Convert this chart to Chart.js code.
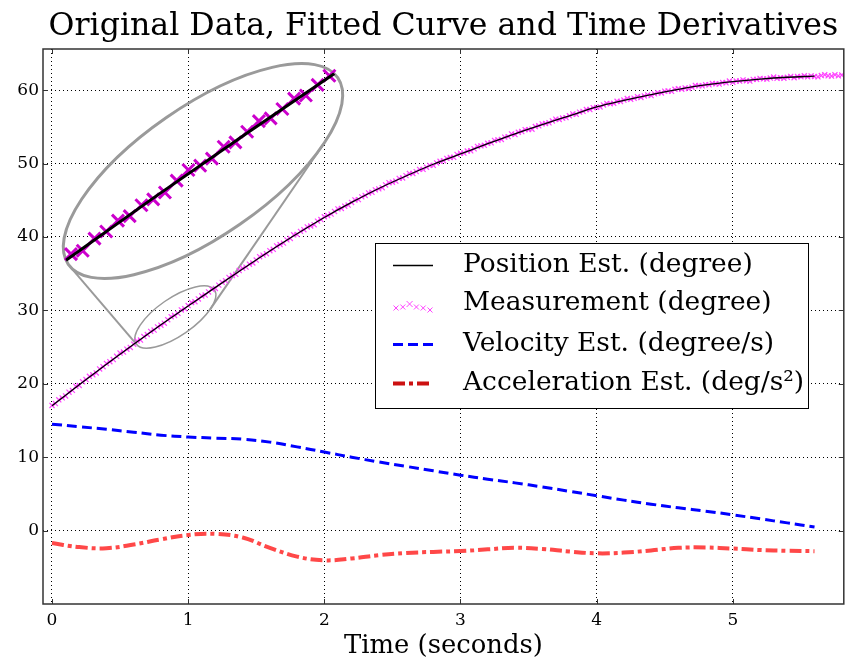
<!DOCTYPE html>
<html>
<head>
<meta charset="utf-8">
<title>Original Data, Fitted Curve and Time Derivatives</title>
<script src="https://cdn.jsdelivr.net/npm/chart.js@4.4.1/dist/chart.umd.min.js"></script>
<style>
  html, body { margin: 0; padding: 0; background: #fff; overflow: hidden; }
  /* the axes run a few px past the right edge of the window, like the original figure */
  #wrap { width: 849px; height: 659px; }
</style>
</head>
<body>
<div id="wrap"><canvas id="chart"></canvas></div>
<script>
const SERIF = '"DejaVu Serif", serif';
const TITLE = 'Original Data, Fitted Curve and Time Derivatives';
const X_LABEL = 'Time (seconds)';

// fitted curve and its derivatives, sampled every 0.2 s
const fitTimes = [0, 0.2, 0.4, 0.6, 0.8, 1.0, 1.2, 1.4, 1.6, 1.8, 2.0, 2.2, 2.4, 2.6, 2.8,
  3.0, 3.2, 3.4, 3.6, 3.8, 4.0, 4.2, 4.4, 4.6, 4.8, 5.0, 5.2, 5.4, 5.6];
const positionEst = [17.0, 19.87, 22.67, 25.39, 28.03, 30.6, 33.13, 35.63, 38.08, 40.43, 42.65,
  44.7, 46.6, 48.3, 49.9, 51.3, 52.7, 54.05, 55.3, 56.5, 57.7, 58.6, 59.4, 60.1, 60.7,
  61.15, 61.5, 61.75, 61.9];
const velocityEst = [14.5, 14.15, 13.8, 13.4, 13.0, 12.75, 12.6, 12.45, 12.05, 11.4, 10.7,
  10.0, 9.35, 8.75, 8.15, 7.55, 7.0, 6.5, 5.95, 5.35, 4.75, 4.15, 3.6, 3.1, 2.65,
  2.15, 1.6, 1.05, 0.5];
const accelEst = [-1.7, -2.25, -2.4, -1.9, -1.2, -0.6, -0.45, -0.95, -2.35, -3.55, -4.05,
  -3.8, -3.35, -3.05, -2.9, -2.78, -2.55, -2.35, -2.5, -2.85, -3.1, -3.0, -2.7, -2.35, -2.3,
  -2.45, -2.65, -2.75, -2.8];

// raw measurements, one every 25 ms from t = 0
const MEAS_STEP = 0.025;
const measurement = [
  17.05, 17.31, 17.82, 18.08, 18.34, 18.85, 19.10, 19.66,
  19.77, 20.27, 20.57, 21.02, 21.22, 21.47, 22.02, 22.32,
  22.77, 23.01, 23.30, 23.74, 24.18, 24.32, 24.71, 24.95,
  25.39, 25.82, 25.95, 26.43, 26.71, 27.14, 27.32, 27.75,
  27.98, 28.25, 28.72, 29.14, 29.31, 29.59, 30.06, 30.23,
  30.65, 31.07, 31.18, 31.55, 31.96, 32.08, 32.50, 32.86,
  32.98, 33.44, 33.81, 34.02, 34.48, 34.74, 34.91, 35.42,
  35.73, 35.89, 36.29, 36.45, 36.85, 37.31, 37.52, 37.72,
  38.13, 38.32, 38.77, 38.96, 39.16, 39.60, 39.79, 40.29,
  40.33, 40.76, 40.99, 41.36, 41.49, 41.67, 42.15, 42.37,
  42.75, 42.91, 43.11, 43.47, 43.82, 43.88, 44.19, 44.34,
  44.70, 45.04, 45.08, 45.46, 45.65, 45.99, 46.08, 46.41,
  46.55, 46.71, 47.08, 47.39, 47.45, 47.61, 47.98, 48.04,
  48.35, 48.65, 48.65, 48.90, 49.20, 49.20, 49.50, 49.75,
  49.75, 50.08, 50.30, 50.38, 50.70, 50.83, 50.85, 51.23,
  51.40, 51.43, 51.70, 51.73, 52.00, 52.33, 52.40, 52.48,
  52.75, 52.82, 53.14, 53.21, 53.28, 53.60, 53.66, 54.03,
  53.95, 54.26, 54.36, 54.62, 54.62, 54.68, 55.04, 55.14,
  55.40, 55.45, 55.55, 55.80, 56.05, 56.00, 56.20, 56.25,
  56.50, 56.75, 56.70, 57.00, 57.10, 57.35, 57.35, 57.60,
  57.65, 57.71, 57.98, 58.19, 58.15, 58.21, 58.48, 58.44,
  58.65, 58.85, 58.75, 58.90, 59.10, 59.00, 59.20, 59.35,
  59.25, 59.49, 59.63, 59.61, 59.85, 59.89, 59.83, 60.11,
  60.20, 60.13, 60.30, 60.23, 60.40, 60.63, 60.60, 60.58,
  60.75, 60.71, 60.91, 60.87, 60.82, 61.03, 60.99, 61.24,
  61.05, 61.24, 61.24, 61.38, 61.28, 61.22, 61.46, 61.46,
  61.60, 61.53, 61.51, 61.64, 61.78, 61.61, 61.69, 61.62,
  61.75, 61.87, 61.69, 61.86, 61.83, 61.95, 61.81, 61.93,
  61.85, 61.81, 61.98, 62.09, 61.95, 61.91, 62.08, 61.94,
  62.05
];

const xTicks = [0, 1, 2, 3, 4, 5];
const yTicks = [0, 10, 20, 30, 40, 50, 60];
const X_MIN = -0.066, X_MAX = 5.815;
const Y_MIN = -10, Y_MAX = 65.6;

// magnifier: the data point under the small ellipse, where its enlarged copy sits, and by how much
const zoomAt = [0.906, 29.1];
const zoomTo = [1.109, 48.98];
const zoomFactor = 3.45;

const fitPoints = vals => fitTimes.map((t, i) => ({ x: t, y: vals[i] }));
const measPoints = measurement.map((v, i) => ({ x: i * MEAS_STEP, y: v }));

// font size that makes a text run a given width
const measureCtx = document.createElement('canvas').getContext('2d');
function sizeForWidth(text, width) {
  measureCtx.font = `100px ${SERIF}`;
  return 100 * width / measureCtx.measureText(text).width;
}
const titleSize = sizeForWidth(TITLE, 790);
const legendSize = sizeForWidth('Position Est. (degree)', 290);
const xLabelSize = sizeForWidth(X_LABEL, 199);

/**
 * Pixel geometry of the two ellipses of the magnifier
 */
function insetGeometry(chart) {
  const o = chart.options.plugins.magnifier;
  const { x, y } = chart.scales;
  const sx = x.getPixelForValue(zoomAt[0]), sy = y.getPixelForValue(zoomAt[1]);
  const bx = x.getPixelForValue(zoomTo[0]), by = y.getPixelForValue(zoomTo[1]);
  return {
    sx, sy, bx, by,
    a: o.radii[0], b: o.radii[1],
    ba: o.radii[0] * zoomFactor, bb: o.radii[1] * zoomFactor,
    rot: o.angle * Math.PI / 180
  };
}

// is a zoomed point inside the big ellipse?
function insideInset(ctx) {
  const chart = ctx.chart;
  if (!ctx.raw || !chart.scales.xz) return false;
  const g = insetGeometry(chart);
  const px = chart.scales.xz.getPixelForValue(ctx.raw.x) - g.bx;
  const py = chart.scales.yz.getPixelForValue(ctx.raw.y) - g.by;
  const c = Math.cos(g.rot), s = Math.sin(g.rot);
  const lx = (px * c + py * s) / g.ba, ly = (-px * s + py * c) / g.bb;
  return lx * lx + ly * ly <= 1.0;
}

// tangent points on a rotated ellipse seen from an outside point
function tangentPoints(cx, cy, a, b, rot, hx, hy) {
  const c = Math.cos(rot), s = Math.sin(rot);
  const dx = hx - cx, dy = hy - cy;
  const lx = (dx * c + dy * s) / a, ly = (-dx * s + dy * c) / b;
  const phi = Math.atan2(ly, lx), alpha = Math.acos(1 / Math.hypot(lx, ly));
  return [phi - alpha, phi + alpha].map(t => {
    const ux = Math.cos(t) * a, uy = Math.sin(t) * b;
    return [cx + ux * c - uy * s, cy + ux * s + uy * c];
  });
}

const magnifier = {
  id: 'magnifier',
  beforeDatasetsDraw(chart, args, opts) {
    const g = insetGeometry(chart);
    const ctx = chart.ctx;
    // external homothety centre -> common tangents of the two ellipses
    const hx = (g.bx - zoomFactor * g.sx) / (1 - zoomFactor);
    const hy = (g.by - zoomFactor * g.sy) / (1 - zoomFactor);
    const small = tangentPoints(g.sx, g.sy, g.a, g.b, g.rot, hx, hy);

    ctx.save();
    ctx.strokeStyle = opts.color;
    ctx.lineWidth = opts.lineWidth;
    small.forEach(p => {
      ctx.beginPath();
      ctx.moveTo(p[0], p[1]);
      ctx.lineTo(g.bx + zoomFactor * (p[0] - g.sx), g.by + zoomFactor * (p[1] - g.sy));
      ctx.stroke();
    });
    ctx.lineWidth = opts.smallWidth;
    ctx.beginPath();
    ctx.ellipse(g.sx, g.sy, g.a, g.b, g.rot, 0, Math.PI * 2);
    ctx.stroke();
    ctx.lineWidth = opts.bigWidth;
    ctx.beginPath();
    ctx.ellipse(g.bx, g.by, g.ba, g.bb, g.rot, 0, Math.PI * 2);
    ctx.stroke();
    ctx.restore();
  },
  beforeDatasetDraw(chart, args, opts) {
    if (args.index !== opts.clipIndex) return;
    const g = insetGeometry(chart);
    const ctx = chart.ctx;
    ctx.save();
    ctx.beginPath();
    ctx.ellipse(g.bx, g.by, g.ba, g.bb, g.rot, 0, Math.PI * 2);
    ctx.clip();
  },
  afterDatasetDraw(chart, args, opts) {
    if (args.index === opts.clipIndex) chart.ctx.restore();
  }
};

// matplotlib-like frame with inward tick marks
const frame = {
  id: 'frame',
  afterDatasetsDraw(chart, args, opts) {
    const { ctx, chartArea: a, scales } = chart;
    ctx.save();
    ctx.strokeStyle = opts.color;
    ctx.lineWidth = 1;
    ctx.beginPath();
    yTicks.forEach(v => {
      const py = Math.round(scales.y.getPixelForValue(v)) + 0.5;
      ctx.moveTo(a.left, py); ctx.lineTo(a.left + opts.tick, py);
      ctx.moveTo(a.right, py); ctx.lineTo(a.right - opts.tick, py);
    });
    xTicks.forEach(v => {
      const px = Math.round(scales.x.getPixelForValue(v)) + 0.5;
      ctx.moveTo(px, a.top); ctx.lineTo(px, a.top + opts.tick);
      ctx.moveTo(px, a.bottom); ctx.lineTo(px, a.bottom - opts.tick);
    });
    ctx.stroke();
    ctx.lineWidth = opts.width;
    ctx.strokeRect(a.left, a.top, a.right - a.left, a.bottom - a.top);
    ctx.restore();
  }
};

// legend box drawn inside the plot
const boxLegend = {
  id: 'boxLegend',
  afterDatasetsDraw(chart, args, opts) {
    const ctx = chart.ctx;
    ctx.save();
    ctx.fillStyle = '#fff';
    ctx.fillRect(opts.left, opts.top, opts.width, opts.height);
    ctx.strokeStyle = '#000';
    ctx.lineWidth = 1;
    ctx.strokeRect(opts.left + 0.5, opts.top + 0.5, opts.width, opts.height);

    opts.items.forEach((item, row) => {
      const ds = chart.data.datasets[item.index];
      const y = opts.top + opts.rowY[row];
      const [x0, x1] = opts.sampleX;
      ctx.save();
      if (item.marker) {
        ctx.strokeStyle = ds.borderColor;
        ctx.lineWidth = 1;
        opts.markerDy.forEach((dy, k) => {
          const cx = x0 + 3 + k * (x1 - x0 - 6) / (opts.markerDy.length - 1);
          const r = k === 2 ? 3 : 2.5;
          ctx.beginPath();
          ctx.moveTo(cx - r, y + dy - r); ctx.lineTo(cx + r, y + dy + r);
          ctx.moveTo(cx - r, y + dy + r); ctx.lineTo(cx + r, y + dy - r);
          ctx.stroke();
        });
      } else {
        ctx.strokeStyle = item.color || ds.borderColor;
        ctx.lineWidth = ds.borderWidth;
        ctx.setLineDash(ds.borderDash || []);
        ctx.beginPath();
        ctx.moveTo(x0, y + 0.5); ctx.lineTo(x1, y + 0.5);
        ctx.stroke();
      }
      ctx.restore();
      ctx.fillStyle = '#000';
      ctx.font = `${opts.fontSize}px ${SERIF}`;
      ctx.textBaseline = 'middle';
      ctx.fillText(ds.label, opts.textX, y);
    });
    ctx.restore();
  }
};

Chart.defaults.color = '#000';
Chart.defaults.font.family = SERIF;

new Chart(document.getElementById('chart'), {
  type: 'line',
  data: {
    datasets: [
      {
        label: 'Position Est. (degree)',
        data: fitPoints(positionEst),
        borderColor: '#000', borderWidth: 1.3,
        pointRadius: 0, cubicInterpolationMode: 'monotone'
      },
      {
        label: 'Measurement (degree)',
        data: measPoints,
        showLine: false,
        pointStyle: 'crossRot', pointRadius: 3.6, pointBorderWidth: 1.2,
        borderColor: '#ff44ff', backgroundColor: '#ff44ff'
      },
      {
        label: 'Velocity Est. (degree/s)',
        data: fitPoints(velocityEst),
        borderColor: '#0000ff', borderWidth: 3, borderDash: [10, 5],
        pointRadius: 0, tension: 0.4
      },
      {
        label: 'Acceleration Est. (deg/s²)',
        data: fitPoints(accelEst),
        borderColor: '#ff4848', borderWidth: 4, borderDash: [12, 4, 4, 4],
        pointRadius: 0, tension: 0.4
      },
      {
        label: 'Position Est. (zoomed)',
        data: fitPoints(positionEst),
        xAxisID: 'xz', yAxisID: 'yz', clip: false,
        borderColor: '#000', borderWidth: 3,
        pointRadius: 0, cubicInterpolationMode: 'monotone'
      },
      {
        label: 'Measurement (zoomed)',
        data: measPoints,
        xAxisID: 'xz', yAxisID: 'yz', clip: false,
        showLine: false,
        pointStyle: 'crossRot',
        pointRadius: c => insideInset(c) ? 8.5 : 0,
        pointBorderWidth: 3,
        borderColor: '#cc00cc', backgroundColor: '#cc00cc'
      }
    ]
  },
  options: {
    responsive: true,
    maintainAspectRatio: false,
    animation: false,
    events: [],
    layout: { padding: 0 },
    scales: {
      x: {
        type: 'linear', min: X_MIN, max: X_MAX,
        afterBuildTicks: s => { s.ticks = xTicks.map(v => ({ value: v })); },
        afterFit: s => { s.height = 55; },
        grid: { color: '#000', lineWidth: 1, drawTicks: false },
        border: { display: false, dash: [1, 3] },
        ticks: { font: { size: 17 }, padding: 6, maxRotation: 0 },
        title: {
          display: true, text: X_LABEL,
          font: { size: xLabelSize, lineHeight: 1.0 }, padding: { top: 0, bottom: 0 }
        }
      },
      y: {
        type: 'linear', min: Y_MIN, max: Y_MAX,
        afterBuildTicks: s => { s.ticks = yTicks.map(v => ({ value: v })); },
        afterFit: s => { s.width = 43; },
        grid: { color: '#000', lineWidth: 1, drawTicks: false },
        border: { display: false, dash: [1, 3] },
        ticks: { font: { size: 17 }, padding: 4 }
      },
      xz: {
        type: 'linear', display: false,
        min: zoomAt[0] + (X_MIN - zoomTo[0]) / zoomFactor,
        max: zoomAt[0] + (X_MAX - zoomTo[0]) / zoomFactor
      },
      yz: {
        type: 'linear', display: false,
        min: zoomAt[1] + (Y_MIN - zoomTo[1]) / zoomFactor,
        max: zoomAt[1] + (Y_MAX - zoomTo[1]) / zoomFactor
      }
    },
    plugins: {
      legend: { display: false },
      tooltip: { enabled: false },
      title: {
        display: true,
        text: TITLE,
        fullSize: false,
        font: { size: titleSize, weight: 'normal', lineHeight: 41 / titleSize },
        padding: { top: 6.5, bottom: 1.5 }
      },
      magnifier: {
        radii: [47.5, 18.8], angle: -34.7,
        color: '#9a9a9a', lineWidth: 2, smallWidth: 1.5, bigWidth: 3,
        clipIndex: 4
      },
      frame: { color: '#333', width: 1.5, tick: 5 },
      boxLegend: {
        left: 375, top: 243, width: 433, height: 165,
        rowY: [22, 60, 101, 140],
        sampleX: [393, 433], textX: 463, fontSize: legendSize,
        markerDy: [5, 4, 1, 4, 5, 7],
        items: [
          { index: 0 },
          { index: 1, marker: true },
          { index: 2 },
          { index: 3, color: '#cc1111' }
        ]
      }
    }
  },
  plugins: [magnifier, frame, boxLegend]
});
</script>
</body>
</html>
